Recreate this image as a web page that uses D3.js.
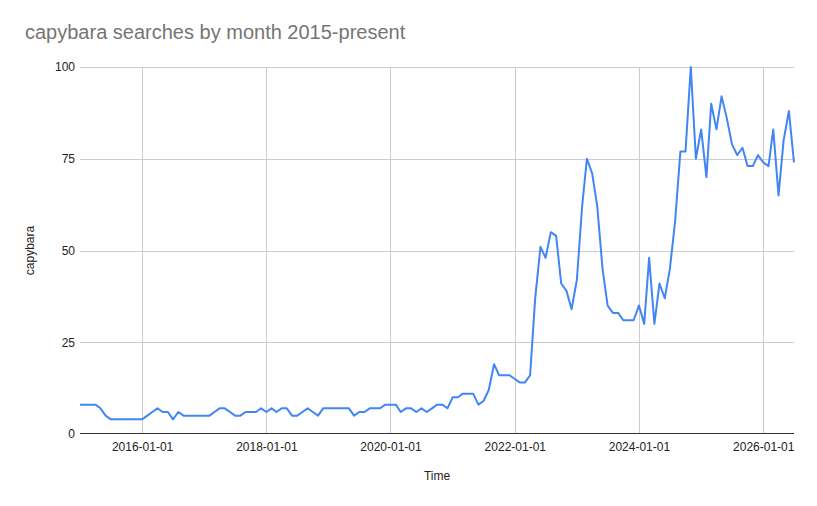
<!DOCTYPE html>
<html>
<head>
<meta charset="utf-8">
<script src="https://cdn.jsdelivr.net/npm/d3@7"></script>
<style>
  html, body { margin: 0; padding: 0; background: #fff; }
  svg { display: block; font-family: Arial, "Liberation Sans", sans-serif; }
</style>
</head>
<body>
<svg id="chart" width="817" height="506"></svg>
<script>
// ---- data ----
const titleText = "capybara searches by month 2015-present";
const xAxisTitle = "Time";
const yAxisTitle = "capybara";
const startMonth = "2015-01-01";
// monthly values, 2015-01 .. 2026-07
const values = [
  8, 8, 8, 8, 7, 5, 4, 4, 4, 4, 4, 4,        // 2015
  4, 5, 6, 7, 6, 6, 4, 6, 5, 5, 5, 5,        // 2016
  5, 5, 6, 7, 7, 6, 5, 5, 6, 6, 6, 7,        // 2017
  6, 7, 6, 7, 7, 5, 5, 6, 7, 6, 5, 7,        // 2018
  7, 7, 7, 7, 7, 5, 6, 6, 7, 7, 7, 8,        // 2019
  8, 8, 6, 7, 7, 6, 7, 6, 7, 8, 8, 7,        // 2020
  10, 10, 11, 11, 11, 8, 9, 12, 19, 16, 16, 16, // 2021
  15, 14, 14, 16, 37, 51, 48, 55, 54, 41, 39, 34, // 2022
  42, 62, 75, 71, 62, 45, 35, 33, 33, 31, 31, 31, // 2023
  35, 30, 48, 30, 41, 37, 45, 58, 77, 77, 100, 75, // 2024
  83, 70, 90, 83, 92, 86, 79, 76, 78, 73, 73, 76, // 2025
  74, 73, 83, 65, 80, 88, 74                 // 2026
];
const yTicks = [0, 25, 50, 75, 100];
const xTickLabels = ["2016-01-01", "2018-01-01", "2020-01-01", "2022-01-01", "2024-01-01", "2026-01-01"];

(function () {
  const parse = d3.utcParse("%Y-%m-%d");
  const start = parse(startMonth);
  const data = values.map((v, i) => ({ date: d3.utcMonth.offset(start, i), value: v }));
  const xTicks = xTickLabels.map(parse);

  const svg = d3.select("#chart");
  const mLeft = 80, mRight = 794, mTop = 67, mBottom = 434;
  const font = "Arial, 'Liberation Sans', sans-serif";

  const x = d3.scaleUtc()
    .domain([data[0].date, data[data.length - 1].date])
    .range([mLeft, mRight]);
  const y = d3.scaleLinear().domain([0, 100]).range([mBottom, mTop]);

  // title
  svg.append("text")
    .attr("x", 25).attr("y", 39)
    .attr("fill", "#757575")
    .attr("font-size", 20)
    .text(titleText);

  // horizontal grid
  svg.append("g")
    .selectAll("line")
    .data(yTicks.filter(d => d !== 0))
    .join("line")
    .attr("x1", mLeft).attr("x2", mRight)
    .attr("y1", d => Math.round(y(d)) + 0.5).attr("y2", d => Math.round(y(d)) + 0.5)
    .attr("stroke", "#cccccc").attr("stroke-width", 1);

  // vertical grid
  svg.append("g")
    .selectAll("line")
    .data(xTicks)
    .join("line")
    .attr("x1", d => Math.round(x(d)) + 0.5).attr("x2", d => Math.round(x(d)) + 0.5)
    .attr("y1", mTop).attr("y2", mBottom)
    .attr("stroke", "#cccccc").attr("stroke-width", 1);

  // y axis labels
  const yAxis = d3.axisLeft(y).tickValues(yTicks).tickSize(0).tickPadding(5);
  const gy = svg.append("g").attr("transform", `translate(${mLeft},0)`).call(yAxis);
  gy.select(".domain").remove();
  gy.selectAll("text").attr("font-size", 12).attr("fill", "#222222").attr("font-family", font);

  // x axis labels
  const xAxis = d3.axisBottom(x).tickValues(xTicks).tickSize(0).tickPadding(8)
    .tickFormat(d3.utcFormat("%Y-%m-%d"));
  const gx = svg.append("g").attr("transform", `translate(0,${mBottom})`).call(xAxis);
  gx.select(".domain").remove();
  gx.selectAll("text").attr("font-size", 12).attr("fill", "#222222").attr("font-family", font);

  // baseline
  svg.append("line")
    .attr("x1", mLeft).attr("x2", mRight)
    .attr("y1", Math.round(y(0)) - 0.5).attr("y2", Math.round(y(0)) - 0.5)
    .attr("stroke", "#333333").attr("stroke-width", 1);

  // line
  const line = d3.line().x(d => x(d.date)).y(d => y(d.value));
  svg.append("path")
    .datum(data)
    .attr("fill", "none")
    .attr("stroke", "#4285f4")
    .attr("stroke-width", 2)
    .attr("stroke-linejoin", "round")
    .attr("d", line);

  // axis titles
  svg.append("text")
    .attr("x", (mLeft + mRight) / 2).attr("y", 480)
    .attr("text-anchor", "middle")
    .attr("font-size", 12).attr("fill", "#222222")
    .text(xAxisTitle);

  svg.append("text")
    .attr("transform", `translate(34,${(mTop + mBottom) / 2}) rotate(-90)`)
    .attr("text-anchor", "middle")
    .attr("font-size", 12).attr("fill", "#222222")
    .text(yAxisTitle);
})();
</script>
</body>
</html>
